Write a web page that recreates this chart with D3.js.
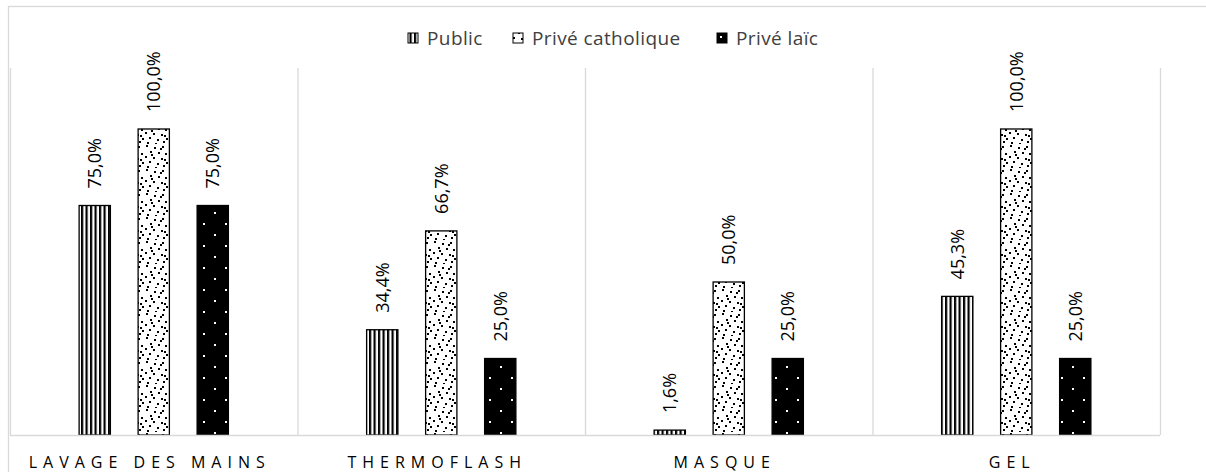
<!DOCTYPE html>
<html><head><meta charset="utf-8">
<script src="https://cdn.jsdelivr.net/npm/d3@7"></script>
<style>body{margin:0;background:#fff}svg{display:block}</style>
</head><body>
<svg id="c" width="1206" height="472"></svg>
<script>
const categories = ["LAVAGE DES MAINS", "THERMOFLASH", "MASQUE", "GEL"];
const seriesNames = ["Public", "Privé catholique", "Privé laïc"];
const publicVals = [75.0, 34.4, 1.6, 45.3];
const catholiqueVals = [100.0, 66.7, 50.0, 100.0];
const laicVals = [75.0, 25.0, 25.0, 25.0];
const seriesVals = [publicVals, catholiqueVals, laicVals];

const svg = d3.select("#c");
const font = "'Open Sans', 'Noto Sans', sans-serif";
const plot = {left: 10, right: 1160, top: 68, bottom: 435};

// patterns
const defs = svg.append("defs");
const pStripe = defs.append("pattern").attr("id","pStripe").attr("patternUnits","userSpaceOnUse").attr("width",4.5).attr("height",4);
pStripe.append("rect").attr("width",4.5).attr("height",4).attr("fill","#fff");
pStripe.append("rect").attr("x",0).attr("width",2.2).attr("height",4).attr("fill","#000");

const pDots = defs.append("pattern").attr("id","pDots").attr("patternUnits","userSpaceOnUse").attr("width",24).attr("height",24);
pDots.append("rect").attr("width",24).attr("height",24).attr("fill","#fff");
const dotPos = [[2,1],[10,3],[18,2],[6,7],[14,8],[21,9],[1,12],[9,13],[17,14],[5,17],[13,19],[22,18],[3,22],[11,23],[19,21],[7,10],[16,4],[20,15]];
dotPos.forEach(d => pDots.append("rect").attr("x",d[0]).attr("y",d[1]).attr("width",2).attr("height",2).attr("fill","#000"));

const pBlack = defs.append("pattern").attr("id","pBlack").attr("patternUnits","userSpaceOnUse").attr("width",22).attr("height",22);
pBlack.append("rect").attr("width",22).attr("height",22).attr("fill","#000");
pBlack.append("rect").attr("x",5).attr("y",3).attr("width",2).attr("height",2).attr("fill","#fff");
pBlack.append("rect").attr("x",16).attr("y",14).attr("width",2).attr("height",2).attr("fill","#fff");
const fills = ["url(#pStripe)","url(#pDots)","url(#pBlack)"];

// outer border
svg.append("rect").attr("x",8.5).attr("y",6.5).attr("width",1205).attr("height",475)
  .attr("fill","none").attr("stroke","#d9d9d9").attr("stroke-width",1.3);

const x0 = d3.scaleBand().domain(categories).range([plot.left, plot.right]).padding(0);
const y = d3.scaleLinear().domain([0,100]).range([plot.bottom, 129]);
const groupW = 177;
const x1 = d3.scaleBand().domain(seriesNames).range([0, groupW]).paddingInner(0.47).paddingOuter(0.235);

// category separators
const bounds = [plot.left, ...categories.map(c => x0(c) + x0.bandwidth())];
svg.append("g").selectAll("line").data(bounds).join("line")
  .attr("x1", d=>d+0.5).attr("x2", d=>d+0.5).attr("y1", plot.top).attr("y2", plot.bottom)
  .attr("stroke","#d9d9d9").attr("stroke-width",1.3);

// bars
const g = svg.append("g");
categories.forEach((c, ci) => {
  const gx = x0(c) + x0.bandwidth()/2 - groupW/2;
  seriesNames.forEach((s, si) => {
    const v = seriesVals[si][ci];
    const bx = gx + x1(s);
    g.append("rect").attr("x", bx).attr("y", y(v)).attr("width", x1.bandwidth()).attr("height", y(0)-y(v))
      .attr("fill", fills[si]).attr("stroke","#000").attr("stroke-width",1.3);
    const lx = bx + x1.bandwidth()/2;
    const ly = y(v) - 17;
    g.append("text").attr("transform", `translate(${lx},${ly}) rotate(-90)`)
      .attr("dy","0.36em").attr("text-anchor","start")
      .attr("font-family", font).attr("font-size", 18).attr("fill","#000")
      .text(v.toFixed(1).replace(".", ",") + "%");
  });
});

// baseline
svg.append("line").attr("x1", plot.left).attr("x2", plot.right).attr("y1", plot.bottom+0.5).attr("y2", plot.bottom+0.5)
  .attr("stroke","#d9d9d9").attr("stroke-width",1.3);

// category labels
svg.append("g").selectAll("text").data(categories).join("text")
  .attr("x", d => x0(d) + x0.bandwidth()/2 - 4).attr("y", 468)
  .attr("text-anchor","middle").attr("font-family", font).attr("font-size", 16)
  .attr("letter-spacing", "6px").attr("fill","#000").text(d=>d);

// legend
const legX = [408, 513, 717];
const leg = svg.append("g");
seriesNames.forEach((s, i) => {
  leg.append("rect").attr("x", legX[i]).attr("y", 33).attr("width", 10).attr("height", 10)
    .attr("fill", fills[i]).attr("stroke","#000").attr("stroke-width",1);
  leg.append("text").attr("x", legX[i] + 19).attr("y", 44.5)
    .attr("font-family", font).attr("font-size", 19).attr("letter-spacing","0.4px")
    .attr("fill","#404040").text(s);
});
</script>
</body></html>
